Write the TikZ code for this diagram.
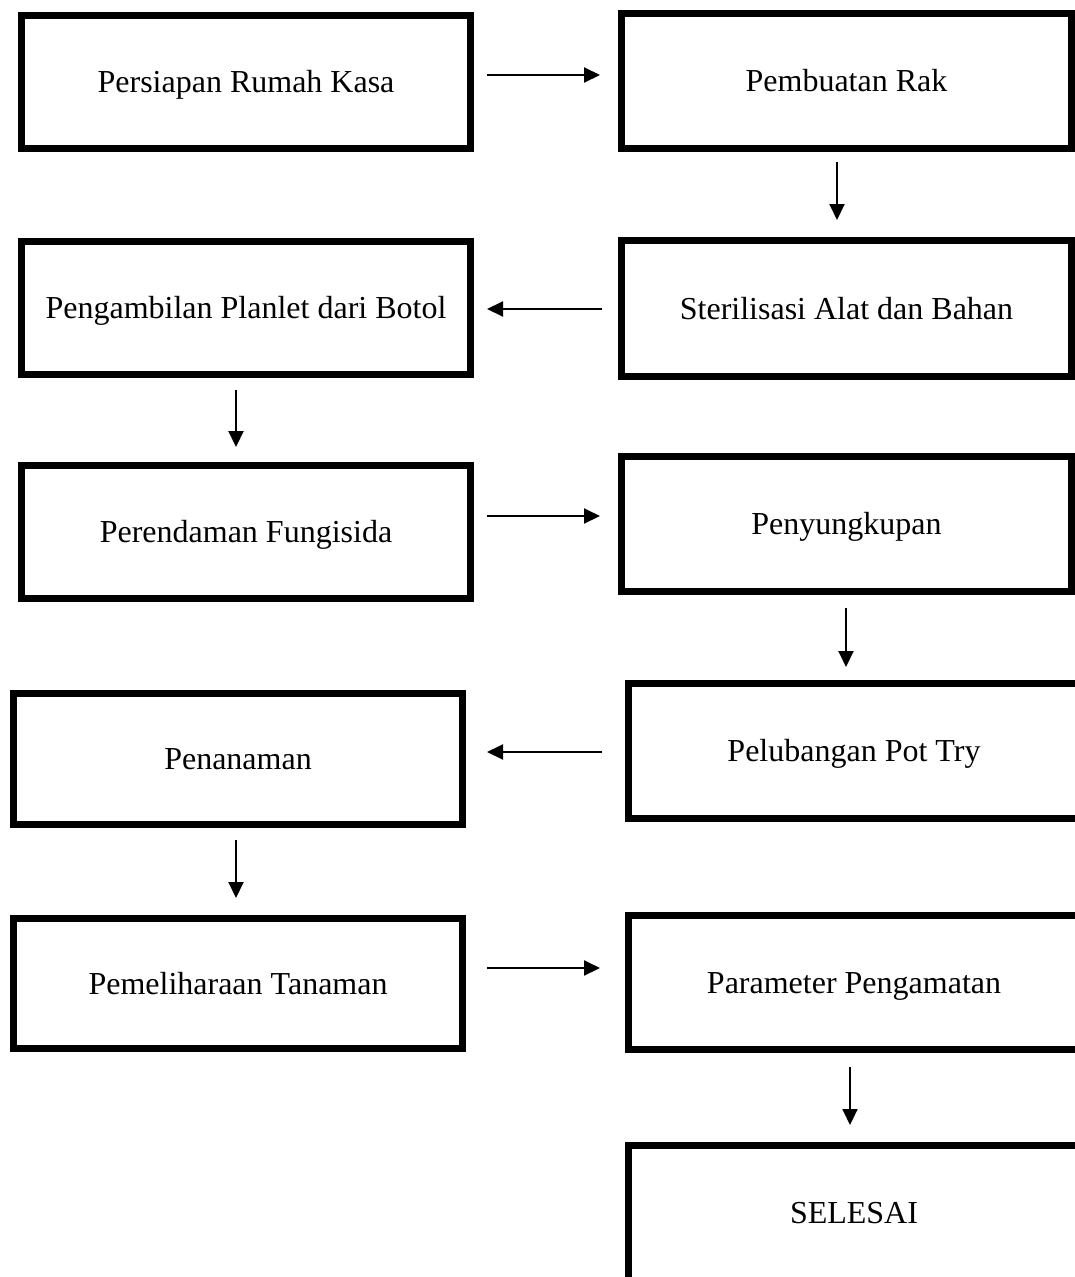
\documentclass[tikz,border=0pt]{standalone}
\usepackage{fontspec}
\setmainfont{Liberation Serif}
\usetikzlibrary{arrows.meta}
\begin{document}
\begin{tikzpicture}[x=1pt,y=-1pt,
  box/.style={draw=black,line width=7pt,inner sep=0pt,text height=21pt,text depth=0pt,font=\fontsize{32}{38}\selectfont},
  arr/.style={line width=2pt,-{Triangle[length=16pt,width=15pt]}}]
\clip (0,0) rectangle (1075,1277);
\node[box,minimum width=449pt,minimum height=133pt] (b1) at (246,82) {Persiapan Rumah Kasa};
\node[box,minimum width=450pt,minimum height=135pt] (b2) at (846.5,81) {Pembuatan Rak};
\node[box,minimum width=450pt,minimum height=136pt] (b3) at (846.5,308.5) {Sterilisasi Alat dan Bahan};
\node[box,minimum width=449pt,minimum height=133pt] (b4) at (246,308) {Pengambilan Planlet dari Botol};
\node[box,minimum width=449pt,minimum height=133pt] (b5) at (246,532) {Perendaman Fungisida};
\node[box,minimum width=450pt,minimum height=135pt] (b6) at (846.5,524) {Penyungkupan};
\node[box,minimum width=451pt,minimum height=135pt] (b7) at (854,751) {Pelubangan Pot Try};
\node[box,minimum width=449pt,minimum height=131pt] (b8) at (238,759) {Penanaman};
\node[box,minimum width=449pt,minimum height=130pt] (b9) at (238,983.5) {Pemeliharaan Tanaman};
\node[box,minimum width=451pt,minimum height=134pt] (b10) at (854,982.5) {Parameter Pengamatan};
\node[box,minimum width=451pt,minimum height=135pt] (b11) at (854,1213) {SELESAI};
\draw[arr] ([xshift=13pt,yshift=7pt]b1.east) -- ([xshift=-18pt,yshift=6pt]b2.west);
\draw[arr] ([xshift=-9.5pt,yshift=-10pt]b2.south) -- ([xshift=-9.5pt,yshift=17pt]b3.north);
\draw[arr] ([xshift=-16pt,yshift=-0.5pt]b3.west) -- ([xshift=13pt,yshift=-1pt]b4.east);
\draw[arr] ([xshift=-10pt,yshift=-12pt]b4.south) -- ([xshift=-10pt,yshift=15pt]b5.north);
\draw[arr] ([xshift=13pt,yshift=16pt]b5.east) -- ([xshift=-18pt,yshift=8pt]b6.west);
\draw[arr] ([xshift=-0.5pt,yshift=-13pt]b6.south) -- ([xshift=-8pt,yshift=13pt]b7.north);
\draw[arr] ([xshift=-23pt,yshift=-1pt]b7.west) -- ([xshift=21pt,yshift=7pt]b8.east);
\draw[arr] ([xshift=-2pt,yshift=-12pt]b8.south) -- ([xshift=-2pt,yshift=17pt]b9.north);
\draw[arr] ([xshift=21pt,yshift=15.5pt]b9.east) -- ([xshift=-25pt,yshift=14.5pt]b10.west);
\draw[arr] ([xshift=-4pt,yshift=-14pt]b10.south) -- ([xshift=-4pt,yshift=17pt]b11.north);
\end{tikzpicture}
\end{document}
